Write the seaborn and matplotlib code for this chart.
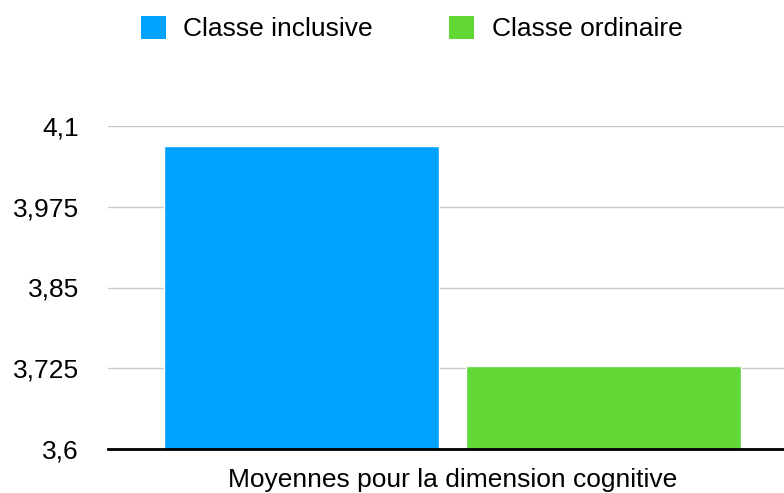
import matplotlib
matplotlib.use("Agg")
import matplotlib.pyplot as plt
import seaborn as sns
import pandas as pd
from matplotlib.ticker import FuncFormatter
from matplotlib.patches import Patch

categories = ["Moyennes pour la dimension cognitive"]
groups = ["Classe inclusive", "Classe ordinaire"]
values = [4.069, 3.728]
colors = ["#00A2FF", "#61D836"]
yticks = [3.6, 3.725, 3.85, 3.975, 4.1]

df = pd.DataFrame({"cat": categories * len(groups), "group": groups, "value": values})

sns.set_theme(style="white")
plt.rcParams["font.family"] = ["Liberation Sans", "DejaVu Sans"]

fig = plt.figure(figsize=(7.84, 4.93), dpi=100)
ax = fig.add_axes([108/784, 1-449/493, 1-108/784, (449-126)/493])

sns.barplot(data=df, x="cat", y="value", hue="group", palette=colors,
            hue_order=groups, width=0.8, gap=0.089, ax=ax, legend=False,
            saturation=1, zorder=3)

ax.set_ylim(3.6, 4.1)
ax.set_xlim(-0.4563, 0.439)
ax.set_yticks(yticks)
ax.yaxis.set_major_formatter(FuncFormatter(lambda v, p: f"{v:g}".replace(".", ",")))
ax.grid(axis="y", color="#c8c8c8", linewidth=1, zorder=0)
ax.grid(axis="x", visible=False)
for s in ["top", "right", "left"]:
    ax.spines[s].set_visible(False)
ax.spines["bottom"].set_color("black")
ax.spines["bottom"].set_linewidth(2)
ax.spines["bottom"].set_zorder(5)
ax.tick_params(axis="both", length=0, labelsize=19, colors="black")
ax.tick_params(axis="y", pad=21)
ax.tick_params(axis="x", pad=14)
ax.set_xlabel("")
ax.set_ylabel("")

handles = [Patch(facecolor=c, edgecolor="none") for c in colors]
fig.legend(handles, groups, loc="upper center", bbox_to_anchor=(0.525, 1.0),
           ncol=2, frameon=False, fontsize=19, handlelength=0.95, handleheight=0.95,
           columnspacing=2.9, handletextpad=0.65, borderaxespad=0.2,
           labelcolor="black")

fig.savefig("out.png", dpi=100)
